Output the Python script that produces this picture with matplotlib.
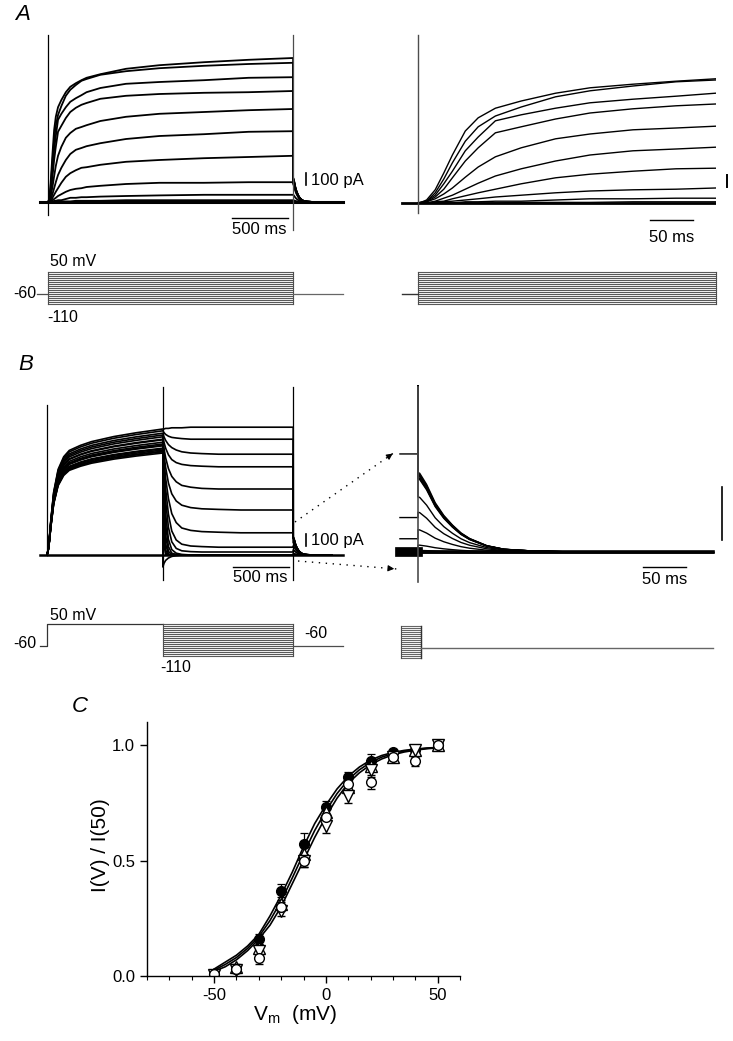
import matplotlib
matplotlib.use('Agg')
import matplotlib.pyplot as plt
from matplotlib.lines import Line2D
import numpy as np

plt.rcParams['font.family'] = ['Liberation Sans', 'DejaVu Sans']
plt.rcParams['axes.unicode_minus'] = False

# ---------------- data ----------------
step_mV = [-110, -100, -90, -80, -70, -60, -50, -40, -30, -20, -10, 0, 10, 20, 30, 40, 50]
hold_mV = -60

# Panel A: activation currents (pA) during a 2.2 s step
a_time_ms = [0, 5, 10, 20, 30, 40, 55, 70, 90, 120, 160, 200, 250, 300, 346,
             470, 700, 1000, 1400, 1800, 2200]
a_pulse_ms = 2200
a_current_pA = [
    [0, 10, 25, 110, 250, 400, 600, 710, 790, 850, 915, 960, 990, 1015, 1035, 1065, 1110, 1140, 1165, 1185, 1200],
    [0, 10, 15, 85, 200, 335, 515, 635, 725, 800, 885, 935, 975, 1010, 1025, 1060, 1090, 1115, 1135, 1150, 1160],
    [0, 0, 15, 65, 160, 265, 435, 550, 685, 735, 790, 835, 865, 890, 915, 950, 985, 1000, 1015, 1035, 1040],
    [0, 0, 10, 50, 115, 210, 350, 460, 585, 635, 700, 750, 785, 810, 825, 860, 885, 900, 910, 915, 925],
    [0, 0, 10, 35, 75, 125, 215, 300, 385, 460, 535, 575, 610, 625, 640, 675, 710, 735, 750, 765, 775],
    [0, 0, 0, 15, 40, 65, 115, 165, 225, 285, 350, 400, 435, 450, 465, 490, 525, 550, 565, 585, 590],
    [0, 0, 0, 10, 15, 35, 60, 85, 115, 160, 210, 240, 265, 285, 290, 310, 335, 350, 365, 375, 385],
    [0, 0, 0, 0, 10, 15, 25, 35, 50, 65, 85, 100, 110, 115, 125, 135, 150, 160, 160, 165, 165],
    [0, 0, 0, 0, 0, 0, 10, 10, 15, 15, 25, 35, 35, 40, 40, 45, 50, 55, 60, 60, 60],
    [0, 0, 0, 0, 0, 0, 0, 0, 0, 5, 5, 5, 10, 10, 10, 10, 15, 15, 15, 15, 15],
]
a_tail_pA = [200, 200, 195, 190, 185, 180, 165, 150, 60, 15]

# tail current time course at -60 mV (normalised)
tail_time_ms = [0, 2, 10, 20, 30, 40, 50, 60, 80, 100, 130, 180, 343]
tail_shape = [1.0, 0.99, 0.85, 0.62, 0.46, 0.34, 0.24, 0.17, 0.08, 0.035, 0.015, 0.0, 0.0]

# Panel B: prepulse to +50 mV then test steps (order: +50 ... -110 mV)
b_pre_time_ms = [0, 10, 20, 35, 60, 100, 150, 200, 300, 400, 600, 800, 1040]
b_pre_shape = [0, 0.04, 0.12, 0.28, 0.5, 0.68, 0.78, 0.83, 0.87, 0.9, 0.94, 0.97, 1.0]
b_pre_ms = 1040
b_pre_end_pA = [1050, 1035, 1015, 985, 960, 940, 925, 910, 890, 875, 865, 860, 850, 885, 915, 965, 1000]
b_test_time_ms = [0, 10, 25, 50, 80, 120, 170, 250, 350, 500, 700, 900, 1170]
b_test_ms = 1170
b_test_pA = [
    [1050, 1050, 1055, 1055, 1060, 1060, 1060, 1065, 1065, 1065, 1065, 1065, 1065],
    [1035, 1020, 1005, 990, 980, 975, 970, 965, 965, 965, 965, 965, 965],
    [1015, 985, 955, 920, 895, 875, 860, 850, 845, 840, 840, 840, 840],
    [985, 940, 890, 835, 795, 770, 755, 745, 740, 735, 735, 735, 735],
    [960, 890, 810, 720, 655, 610, 580, 565, 555, 550, 550, 550, 550],
    [940, 840, 730, 600, 510, 450, 415, 395, 385, 380, 375, 375, 375],
    [925, 790, 640, 470, 345, 270, 225, 205, 195, 190, 185, 185, 185],
    [910, 740, 550, 340, 200, 125, 90, 75, 70, 65, 65, 65, 65],
    [890, 680, 450, 230, 110, 55, 35, 28, 25, 25, 25, 25, 25],
    [875, 600, 340, 130, 45, 15, 5, 0, 0, 0, 0, 0, 0],
    [865, 520, 250, 70, 15, 5, 0, 0, 0, 0, 0, 0, 0],
    [860, 430, 160, 30, 5, 0, 0, 0, 0, 0, 0, 0, 0],
    [850, 340, 90, 10, 0, 0, 0, 0, 0, 0, 0, 0, 0],
    [885, 250, 40, 0, 0, 0, 0, 0, 0, 0, 0, 0, 0],
    [915, 170, 15, 0, 0, 0, 0, 0, 0, 0, 0, 0, 0],
    [965, 90, 5, 0, 0, 0, 0, 0, 0, 0, 0, 0, 0],
    [-100, -70, -45, -25, -12, -5, 0, 0, 0, 0, 0, 0, 0],
]
b_tail_pA = [150, 147, 145, 143, 140, 138, 104, 75, 42, 13, 3, 0, 0, 0, 0, 0, 0]

# Panel C: normalised activation
v_test_mV = [-50, -40, -30, -20, -10, 0, 10, 20, 30, 40, 50]
i_filled = [0.01, 0.03, 0.16, 0.37, 0.57, 0.73, 0.86, 0.93, 0.97, 0.98, 1.0]
e_filled = [0.01, 0.01, 0.02, 0.03, 0.05, 0.03, 0.025, 0.03, 0.015, 0.01, 0.0]
i_open = [0.01, 0.03, 0.08, 0.30, 0.50, 0.69, 0.83, 0.84, 0.95, 0.93, 1.0]
e_open = [0.01, 0.01, 0.03, 0.02, 0.03, 0.03, 0.03, 0.03, 0.02, 0.02, 0.0]
i_up = [0.01, 0.04, 0.12, 0.31, 0.53, 0.71, 0.82, 0.91, 0.95, 0.98, 1.0]
e_up = [0.005, 0.01, 0.02, 0.02, 0.03, 0.03, 0.03, 0.02, 0.015, 0.01, 0.0]
i_down = [0.005, 0.025, 0.11, 0.28, 0.50, 0.65, 0.78, 0.89, 0.95, 0.98, 1.0]
e_down = [0.005, 0.01, 0.02, 0.02, 0.03, 0.03, 0.03, 0.03, 0.02, 0.01, 0.0]
v_fit_mV = [-50, -45, -40, -35, -30, -25, -20, -15, -10, -5, 0, 5, 10, 15, 20, 25, 30, 35, 40, 45, 50]
fit_filled = [0.03, 0.06, 0.09, 0.13, 0.18, 0.26, 0.35, 0.45, 0.56, 0.66, 0.74, 0.81, 0.865, 0.905,
              0.935, 0.955, 0.968, 0.977, 0.983, 0.987, 0.99]
fit_mid = [0.025, 0.05, 0.08, 0.12, 0.17, 0.24, 0.325, 0.425, 0.53, 0.63, 0.715, 0.79, 0.85, 0.893,
           0.925, 0.948, 0.963, 0.974, 0.98, 0.986, 0.99]
fit_open = [0.02, 0.04, 0.07, 0.11, 0.16, 0.22, 0.30, 0.40, 0.50, 0.60, 0.69, 0.77, 0.835, 0.88,
            0.915, 0.94, 0.958, 0.97, 0.978, 0.984, 0.988]

# ---------------- figure ----------------
W, H = 733, 1041
fig = plt.figure(figsize=(W / 100, H / 100), dpi=100)


def px_axes(l, r, t, b):
    return fig.add_axes([l / W, 1 - b / H, (r - l) / W, (b - t) / H])


def trace_axes(l, r, t, b, x0, xs, y0, ys):
    ax = px_axes(l, r, t, b)
    ax.set_xlim((l - x0) / xs, (r - x0) / xs)
    ax.set_ylim((y0 - b) / ys, (y0 - t) / ys)
    ax.axis('off')
    return ax


def ftext(x, y, s, ha='center', va='center', size=12, **kw):
    fig.text(x / W, 1 - y / H, s, ha=ha, va=va, fontsize=size, **kw)


tail_t = np.array(tail_time_ms, dtype=float)
tail_s = np.array(tail_shape)

# ---- Panel A left ----
axA = trace_axes(25, 360, 25, 245, 48, 0.1114, 202, 0.12)
axA.plot([-70, 2650], [0, 0], color='k', lw=2.2)
for cur, ta in zip(a_current_pA, a_tail_pA):
    t = np.concatenate([a_time_ms, a_pulse_ms + tail_t])
    y = np.concatenate([cur, ta * tail_s])
    axA.plot(t, y, color='k', lw=1.3)
axA.plot([0, 0], [-108, 1390], color='k', lw=0.9)
axA.plot([a_pulse_ms, a_pulse_ms], [-233, 1390], color='0.3', lw=0.9)
axA.plot([1652, 2152], [-133, -133], color='k', lw=1.0)
axA.plot([2316, 2316], [140, 240], color='k', lw=1.2, clip_on=False)
ftext(259, 230, '500 ms')
ftext(311, 180, '100 pA', ha='left')

# ---- Panel A right ----
axAr = trace_axes(395, 716, 25, 245, 418, 0.86, 203, 0.12)
axAr.plot([-19, 347], [0, 0], color='k', lw=2.0)
for cur in a_current_pA:
    axAr.plot(a_time_ms, cur, color='k', lw=1.0)
axAr.plot([0, 0], [-83, 1400], color='0.3', lw=1.0)
axAr.plot([270, 320], [-142, -142], color='k', lw=1.0)
axAr.plot([359, 359], [133, 233], color='k', lw=1.4, clip_on=False)
ftext(672, 237, '50 ms')

# ---- Panel A protocols ----
axAp = trace_axes(0, 360, 250, 330, 48, 0.1114, 282, 0.2)
for v in step_mV:
    axAp.plot([0, a_pulse_ms], [v, v], color='0.35', lw=0.8)
axAp.plot([0, 0], [step_mV[0], step_mV[-1]], color='0.3', lw=0.8)
axAp.plot([a_pulse_ms] * 2, [step_mV[0], step_mV[-1]], color='0.3', lw=0.8)
axAp.plot([-95, 0], [hold_mV, hold_mV], color='0.3', lw=0.9)
axAp.plot([a_pulse_ms, 2650], [hold_mV, hold_mV], color='0.4', lw=0.9)
ftext(73, 262, '50 mV', size=11.5)
ftext(25, 293, '-60', size=11.5)
ftext(63, 318, '-110', size=11.5)

axArp = trace_axes(395, 733, 250, 330, 418, 0.86, 282, 0.2)
for v in step_mV:
    axArp.plot([0, 346.5], [v, v], color='0.35', lw=0.8)
axArp.plot([0, 0], [step_mV[0], step_mV[-1]], color='0.3', lw=0.8)
axArp.plot([346.5] * 2, [step_mV[0], step_mV[-1]], color='0.3', lw=0.8)
axArp.plot([-19, 0], [hold_mV, hold_mV], color='0.2', lw=1.0)

# ---- Panel B left ----
axB = trace_axes(25, 360, 380, 590, 47, 0.1114, 555, 0.12)
axB.plot([-63, 2660], [0, 0], color='k', lw=1.8)
pre_t = np.array(b_pre_time_ms, dtype=float)
pre_s = np.array(b_pre_shape)
for pe, cur, ta in zip(b_pre_end_pA, b_test_pA, b_tail_pA):
    t = np.concatenate([pre_t, b_pre_ms + np.array(b_test_time_ms, dtype=float),
                        b_pre_ms + b_test_ms + tail_t])
    y = np.concatenate([pe * pre_s, cur, ta * tail_s])
    axB.plot(t, y, color='k', lw=1.2)
axB.plot([0, 0], [0, 1250], color='k', lw=0.9)
axB.plot([b_pre_ms] * 2, [-208, 1400], color='k', lw=0.9)
axB.plot([b_pre_ms + b_test_ms] * 2, [-208, 1400], color='k', lw=0.9)
axB.plot([1670, 2170], [-100, -100], color='k', lw=1.0)
axB.plot([2325, 2325], [75, 175], color='k', lw=1.2, clip_on=False)
ftext(260, 578, '500 ms')
ftext(311, 540, '100 pA', ha='left')

# ---- Panel B right ----
axBr = trace_axes(395, 716, 385, 590, 418, 0.86, 552, 0.53)
axBr.plot([-21, 0], [0, 0], color='k', lw=7)
axBr.plot([0, 343], [0, 0], color='k', lw=2.6)
for cur, ta in zip(b_test_pA, b_tail_pA):
    t = np.concatenate([[-21, 0], tail_t])
    y = np.concatenate([[cur[-1], cur[-1]], ta * tail_s])
    axBr.plot(t, y, color='k', lw=1.0)
axBr.plot([0, 0], [-57, 311], color='0.3', lw=1.2)
axBr.plot([262, 312], [-28, -28], color='k', lw=1.0)
axBr.plot([353.5, 353.5], [22.6, 122.6], color='k', lw=1.2, clip_on=False)
ftext(665, 580, '50 ms')

# ---- Panel B protocols ----
axBp = trace_axes(0, 360, 600, 680, 47, 0.1114, 634, 0.2)
axBp.plot([-63, 0, 0, b_pre_ms], [hold_mV, hold_mV, step_mV[-1], step_mV[-1]], color='0.2', lw=0.9)
for v in step_mV:
    axBp.plot([b_pre_ms, b_pre_ms + b_test_ms], [v, v], color='0.35', lw=0.8)
axBp.plot([b_pre_ms] * 2, [step_mV[0], step_mV[-1]], color='0.3', lw=0.8)
axBp.plot([b_pre_ms + b_test_ms] * 2, [step_mV[0], step_mV[-1]], color='0.3', lw=0.8)
axBp.plot([b_pre_ms + b_test_ms, 2660], [hold_mV, hold_mV], color='0.3', lw=0.9)
ftext(73, 615, '50 mV', size=11.5)
ftext(25, 643, '-60', size=11.5)
ftext(316, 633, '-60', size=11.5)
ftext(176, 668, '-110', size=11.5)

axBrp = trace_axes(395, 733, 600, 680, 418, 0.86, 636, 0.2)
for v in step_mV:
    axBrp.plot([-20, 3], [v, v], color='0.4', lw=0.8)
axBrp.plot([-20, -20], [step_mV[0], step_mV[-1]], color='0.3', lw=0.8)
axBrp.plot([3, 3], [step_mV[0], step_mV[-1]], color='0.2', lw=1.0)
axBrp.plot([3, 343], [hold_mV, hold_mV], color='0.4', lw=1.0)

# dotted arrows linking B left and B right
for (x0, y0, x1, y1) in [(295, 522, 395, 452), (298, 561, 397, 569)]:
    fig.add_artist(Line2D([x0 / W, x1 / W], [1 - y0 / H, 1 - y1 / H], color='k', lw=1.0,
                          linestyle=(0, (1, 4)), transform=fig.transFigure))
    fig.add_artist(matplotlib.patches.FancyArrowPatch(
        ((x1 - 0.1 * (x1 - x0)) / W, 1 - (y1 - 0.1 * (y1 - y0)) / H), (x1 / W, 1 - y1 / H),
        arrowstyle='-|>', mutation_scale=9, color='k', lw=0.8, transform=fig.transFigure))

# ---- Panel C ----
axC = px_axes(147, 460, 722, 976)
axC.plot(v_fit_mV, fit_filled, color='k', lw=1.2)
axC.plot(v_fit_mV, fit_mid, color='k', lw=1.2)
axC.plot(v_fit_mV, fit_open, color='k', lw=1.2)
ekw = dict(ecolor='k', elinewidth=0.9, capsize=3, capthick=0.9, linestyle='none')
axC.errorbar(v_test_mV, i_filled, yerr=e_filled, marker='o', ms=7, mfc='k', mec='k', **ekw)
axC.errorbar(v_test_mV, i_up, yerr=e_up, marker='^', ms=8, mfc='white', mec='k', mew=1.0, **ekw)
axC.errorbar(v_test_mV, i_down, yerr=e_down, marker='v', ms=8, mfc='white', mec='k', mew=1.0, **ekw)
axC.errorbar(v_test_mV, i_open, yerr=e_open, marker='o', ms=7, mfc='white', mec='k', mew=1.0, **ekw)
axC.set_xlim(-80, 60)
axC.set_ylim(0, 1.1)
axC.set_xticks([-50, 0, 50])
axC.set_xticks(np.arange(-80, 61, 10), minor=True)
axC.set_yticks([0.0, 0.5, 1.0])
axC.set_yticklabels(['0.0', '0.5', '1.0'])
axC.tick_params(axis='both', which='major', direction='out', length=5, width=1, labelsize=12)
axC.tick_params(axis='x', which='minor', direction='out', length=3, width=0.8)
for s in ['top', 'right']:
    axC.spines[s].set_visible(False)
for s in ['left', 'bottom']:
    axC.spines[s].set_linewidth(1.0)
axC.set_facecolor('none')
ftext(100, 845, 'I(V) / I(50)', size=15, rotation=90)
ftext(295, 1015, r'$\mathregular{V_m}$  (mV)', size=15)

# panel letters
ftext(23, 15, 'A', size=16, style='italic')
ftext(26, 365, 'B', size=16, style='italic')
ftext(80, 706, 'C', size=16, style='italic')

fig.savefig('out.png', dpi=100)
